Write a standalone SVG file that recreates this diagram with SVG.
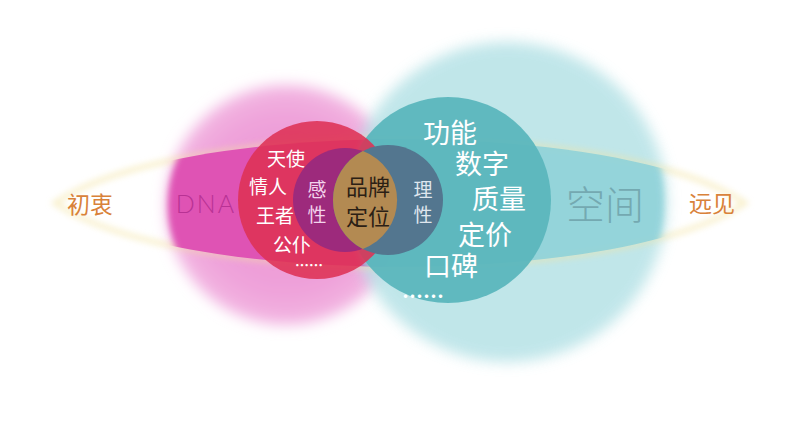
<svg xmlns="http://www.w3.org/2000/svg" width="800" height="426" viewBox="0 0 800 426">
  <defs>
    <filter id="blurBig" x="-30%" y="-30%" width="160%" height="160%">
      <feGaussianBlur stdDeviation="7"/>
    </filter>
    <filter id="blurSoft" x="-20%" y="-20%" width="140%" height="140%">
      <feGaussianBlur stdDeviation="3"/>
    </filter>
    <filter id="blurLine" x="-10%" y="-50%" width="120%" height="200%">
      <feGaussianBlur stdDeviation="3"/>
    </filter>
    <clipPath id="bandClip">
      <path d="M55,203 C180,118 620,118 745,203 C620,288 180,288 55,203 Z"/>
    </clipPath>
    <radialGradient id="pinkGrad" cx="0.5" cy="0.5" r="0.5">
      <stop offset="0" stop-color="#eb90d3"/>
      <stop offset="0.75" stop-color="#efa3da"/>
      <stop offset="1" stop-color="#f3b8e3"/>
    </radialGradient>
  </defs>
  <style>
    .cjk { font-family: "Noto Sans CJK SC", "Noto Sans", sans-serif; text-anchor: middle; dominant-baseline: central; }
    .w { fill: #ffffff; }
    .left { font-size: 19px; }
    .right { font-size: 27px; }
    .side { font-size: 23px; fill: #d9823a; }
    .dots { font-weight: bold; }
  </style>
  <rect width="800" height="426" fill="#ffffff"/>

  <g id="bg-circles">
    <circle cx="286" cy="205" r="120" fill="url(#pinkGrad)" filter="url(#blurBig)"/>
    <circle cx="507" cy="202" r="160" fill="#b6e2e6" opacity="0.85" filter="url(#blurBig)"/>
  </g>

  <g id="band">
    <path d="M55,203 C180,118 620,118 745,203 C620,288 180,288 55,203 Z" fill="none" stroke="#f3e3a0" stroke-width="5" opacity="0.55" filter="url(#blurLine)"/>
    <g clip-path="url(#bandClip)">
      <circle cx="286" cy="205" r="118" fill="#df52b4" filter="url(#blurSoft)"/>
      <circle cx="507" cy="202" r="157" fill="#8fd2d9" opacity="0.9" filter="url(#blurSoft)"/>
    </g>
  </g>

  <g id="teal-circle">
    <circle cx="448" cy="200" r="103" fill="#5bb6bd" opacity="0.95"/>
  </g>
  <g id="red-circle">
    <circle cx="317" cy="200" r="79" fill="#de3154" opacity="0.88"/>
  </g>
  <g id="emotional">
    <circle cx="345" cy="200" r="52" fill="#9d2a7c"/>
  </g>
  <g id="rational">
    <circle cx="388" cy="200" r="55" fill="#53768f"/>
  </g>
  <g id="core">
    <path d="M362.8,151.1 A55,55 0 0,0 362.8,248.9 A52,52 0 0,0 362.8,151.1 Z" fill="#b38a52"/>
  </g>

  <g id="labels">
    <text class="cjk side" x="90" y="203">初衷</text>
    <text x="206" y="203" font-family="Lato, 'Noto Sans', sans-serif" font-weight="300" font-size="25" letter-spacing="2" fill="#b83294" text-anchor="middle" dominant-baseline="central">DNA</text>
    <text class="cjk w left" x="286" y="157">天使</text>
    <text class="cjk w left" x="268" y="185">情人</text>
    <text class="cjk w left" x="275" y="214">王者</text>
    <text class="cjk w left" x="292" y="243">公仆</text>
    <text class="cjk w dots" x="309" y="264" font-size="14">……</text>
    <text class="cjk" font-size="19" fill="#f3d3ec"><tspan x="317" y="188">感</tspan><tspan x="317" y="213">性</tspan></text>
    <text class="cjk" font-size="22" fill="#2b2015"><tspan x="368" y="185">品牌</tspan><tspan x="368" y="215">定位</tspan></text>
    <text class="cjk" font-size="19" fill="#dfe6ee"><tspan x="423" y="188">理</tspan><tspan x="423" y="213">性</tspan></text>
    <text class="cjk w right" x="450" y="131">功能</text>
    <text class="cjk w right" x="482" y="162">数字</text>
    <text class="cjk w right" x="499" y="197">质量</text>
    <text class="cjk w right" x="485" y="233">定价</text>
    <text class="cjk w right" x="451" y="264">口碑</text>
    <text class="cjk w dots" x="423" y="295" font-size="21">……</text>
    <text class="cjk" x="605" y="202" font-size="39" font-weight="300" fill="#74a9b1">空间</text>
    <text class="cjk side" x="712" y="202">远见</text>
  </g>
</svg>
